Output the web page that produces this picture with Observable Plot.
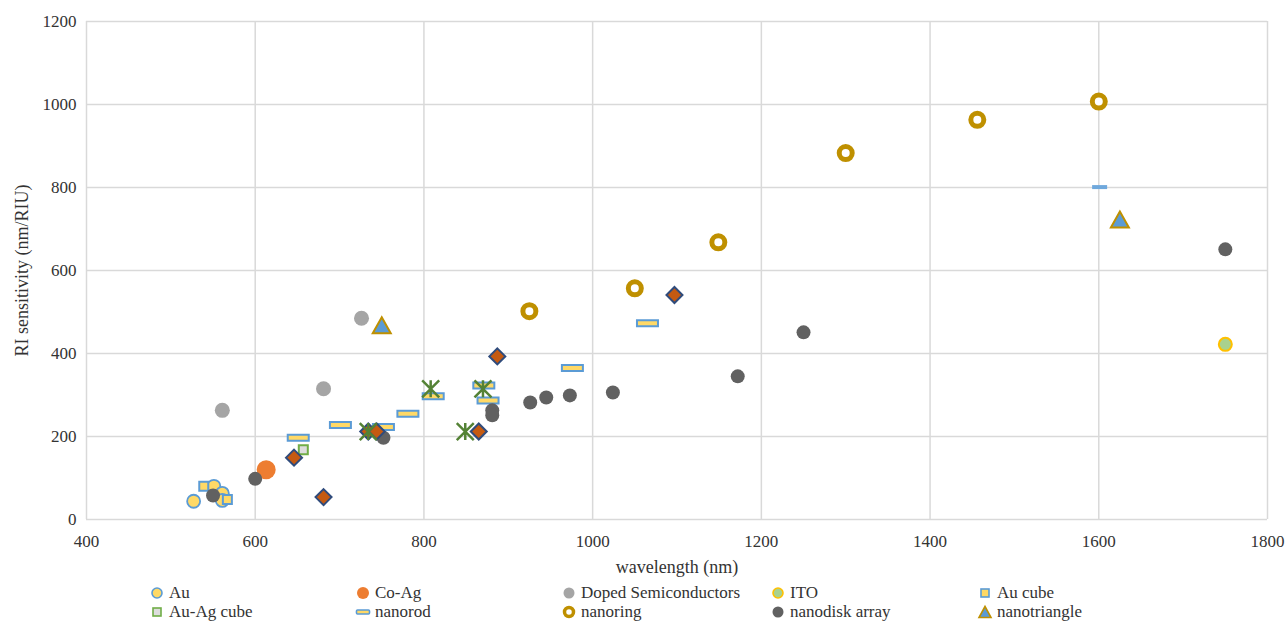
<!DOCTYPE html>
<html>
<head>
<meta charset="utf-8">
<script src="https://cdn.jsdelivr.net/npm/d3@7"></script>
<script src="https://cdn.jsdelivr.net/npm/@observablehq/plot@0.6"></script>
<style>
  body { margin: 0; background: #fff; font-family: 'Liberation Serif', serif; }
  #chart svg, #chart svg text { font-family: 'Liberation Serif', serif !important; }
  #chart svg g[aria-label="x-axis tick label"] text,
  #chart svg g[aria-label="y-axis tick label"] text { font-size: 17px !important; }
  #chart svg g[aria-label="x-axis label"] text,
  #chart svg g[aria-label="y-axis label"] text { font-size: 18px !important; }
  #legend { position: relative; width: 1287px; height: 42px; }
  .item { position: absolute; display: flex; align-items: center; font-family: 'Liberation Serif', serif; font-size: 17px; color: #333; line-height: 1; white-space: nowrap; }
  .item svg { margin-right: 4px; }
</style>
</head>
<body>
<div id="chart"></div>
<div id="legend"></div>
<script>
// Resonance wavelength (nm) vs refractive-index sensitivity (nm/RIU), one array per particle type
const au        = [[527, 44], [551, 80], [561, 63], [561, 46]];
const coAg      = [[613, 120]];
const doped     = [[561, 263], [681, 315], [726, 485]];
const ito       = [[1750, 422]];
const auCube    = [[539, 80], [567, 48]];
const auAgCube  = [[657, 168]];
const nanorod   = [[651, 197], [701, 228], [752, 223], [781, 255], [811, 297], [871, 323], [876, 287], [976, 365], [1065, 473]];
const nanorodIR = [[1601, 801]];
const nanoring  = [[925, 502], [1050, 557], [1149, 668], [1300, 883], [1456, 963], [1600, 1007]];
const nanodisk  = [[550, 58], [600, 98], [752, 197], [881, 263], [881, 251], [926, 282], [945, 294], [973, 299], [1024, 306], [1172, 345], [1250, 451], [1750, 651]];
const nanotri   = [[750, 468], [1625, 723]];
const diamondPts = [[646, 149], [681, 54], [734, 212], [744, 212], [865, 212], [887, 393], [1097, 541]];
const starPts    = [[734, 212], [808, 315], [849, 212], [870, 315]];

const xTicks = [400, 600, 800, 1000, 1200, 1400, 1600, 1800];
const yTicks = [0, 200, 400, 600, 800, 1000, 1200];

const legendRows = [
  ["Au", "Co-Ag", "Doped Semiconductors", "ITO", "Au cube"],
  ["Au-Ag cube", "nanorod", "nanoring", "nanodisk array", "nanotriangle"]
];

// Marker shapes (fixed pixel geometry)
const rectSym = (w, h) => ({draw(c) { c.rect(-w / 2, -h / 2, w, h); }});
const triSym = (w, h) => ({draw(c) { c.moveTo(0, -h / 2); c.lineTo(w / 2, h / 2); c.lineTo(-w / 2, h / 2); c.closePath(); }});
const diaSym = (a) => ({draw(c) { c.moveTo(0, -a); c.lineTo(a, 0); c.lineTo(0, a); c.lineTo(-a, 0); c.closePath(); }});
const starSym = (a) => ({draw(c) { c.moveTo(-a, -a); c.lineTo(a, a); c.moveTo(a, -a); c.lineTo(-a, a); c.moveTo(0, -a); c.lineTo(0, a); }});

const BLUE = "#5B9BD5", YEL = "#FFD966", GOLD = "#BF9000";

const pt = (data, opts) => Plot.dot(data, {x: d => d[0], y: d => d[1], ...opts});

const chart = Plot.plot({
  width: 1287,
  height: 580,
  marginLeft: 86,
  marginRight: 20,
  marginTop: 21,
  marginBottom: 61,
  style: {fontFamily: "'Liberation Serif', serif", fontSize: "17px", color: "#333", background: "#fff"},
  x: {domain: [400, 1800]},
  y: {domain: [0, 1200]},
  marks: [
    Plot.gridX(xTicks, {stroke: "#d9d9d9", strokeOpacity: 1, strokeWidth: 1.5}),
    Plot.gridY(yTicks, {stroke: "#d9d9d9", strokeOpacity: 1, strokeWidth: 1.5}),
    Plot.axisX({ticks: xTicks, tickFormat: d => String(d), tickSize: 0, tickPadding: 15, label: "wavelength (nm)", labelAnchor: "center", labelArrow: "none", labelOffset: 53}),
    Plot.axisY({ticks: yTicks, tickFormat: d => String(d), tickSize: 0, tickPadding: 10, label: "RI sensitivity (nm/RIU)", labelAnchor: "center", labelArrow: "none", labelOffset: 71}),
    pt(au, {symbol: "circle", r: 6.5, fill: YEL, stroke: BLUE, strokeWidth: 1.8}),
    pt(coAg, {symbol: "circle", r: 9.5, fill: "#ED7D31", stroke: "none"}),
    pt(doped, {symbol: "circle", r: 7.5, fill: "#A5A5A5", stroke: "none"}),
    pt(ito, {symbol: "circle", r: 6.5, fill: "#A9D18E", stroke: "#FFC000", strokeWidth: 2}),
    pt(auCube, {symbol: rectSym(9, 9), fill: YEL, stroke: BLUE, strokeWidth: 2}),
    pt(auAgCube, {symbol: rectSym(9, 9), fill: "#DDDDDD", stroke: "#70AD47", strokeWidth: 2}),
    pt(nanorod, {symbol: rectSym(21, 6), fill: YEL, stroke: BLUE, strokeWidth: 2}),
    pt(nanorodIR, {symbol: rectSym(15, 4), fill: "#6FA8DC", stroke: "none"}),
    pt(nanoring, {symbol: "circle", r: 6.5, fill: "#fff", stroke: GOLD, strokeWidth: 5}),
    pt(nanodisk, {symbol: "circle", r: 7, fill: "#616161", stroke: "none"}),
    pt(nanotri, {symbol: triSym(18, 16), fill: BLUE, stroke: GOLD, strokeWidth: 2}),
    pt(diamondPts, {symbol: diaSym(8), fill: "#C55A11", stroke: "#2F4B7C", strokeWidth: 2}),
    pt(starPts, {symbol: starSym(8.5), fill: "none", stroke: "#548235", strokeWidth: 2.5})
  ]
});
document.getElementById("chart").append(chart);

// Legend swatches
const swatch = {
  "Au": `<circle cx="8" cy="8" r="5" fill="${YEL}" stroke="${BLUE}" stroke-width="1.6"/>`,
  "Co-Ag": `<circle cx="8" cy="8" r="6" fill="#ED7D31"/>`,
  "Doped Semiconductors": `<circle cx="8" cy="8" r="5.5" fill="#A5A5A5"/>`,
  "ITO": `<circle cx="8" cy="8" r="5" fill="#A9D18E" stroke="#FFC000" stroke-width="1.6"/>`,
  "Au cube": `<rect x="4" y="4" width="8" height="8" fill="${YEL}" stroke="${BLUE}" stroke-width="1.6"/>`,
  "Au-Ag cube": `<rect x="4" y="4" width="8" height="8" fill="#DDDDDD" stroke="#70AD47" stroke-width="1.6"/>`,
  "nanorod": `<rect x="1.5" y="6" width="13" height="4" rx="1" fill="${YEL}" stroke="${BLUE}" stroke-width="1.6"/>`,
  "nanoring": `<circle cx="8" cy="8" r="4.5" fill="#fff" stroke="${GOLD}" stroke-width="3.5"/>`,
  "nanodisk array": `<circle cx="8" cy="8" r="5.5" fill="#616161"/>`,
  "nanotriangle": `<path d="M8,2.5L14,13.5H2Z" fill="${BLUE}" stroke="${GOLD}" stroke-width="1.6"/>`
};
const colX = [157, 363, 569, 778, 985];
const rowY = [13, 32];
const legend = document.getElementById("legend");
legendRows.forEach((row, ri) => row.forEach((name, ci) => {
  const el = document.createElement("div");
  el.className = "item";
  el.style.left = (colX[ci] - 8) + "px";
  el.style.top = (rowY[ri] - 9) + "px";
  el.innerHTML = `<svg width="16" height="16">${swatch[name]}</svg><span>${name}</span>`;
  legend.append(el);
}));
</script>
</body>
</html>
